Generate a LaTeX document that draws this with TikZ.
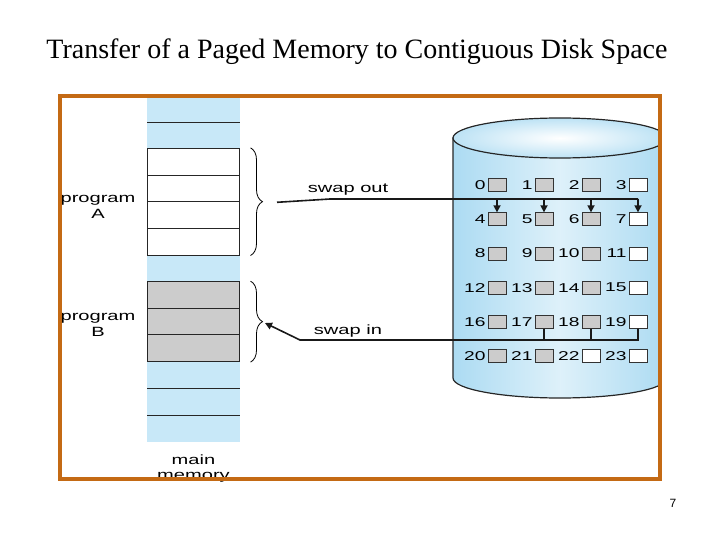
\documentclass[tikz,border=0pt]{standalone}
\usepackage{fontspec}
\setmainfont{Liberation Serif}
\newfontfamily\figfont[FakeStretch=1.5]{Liberation Sans}
\newfontfamily\pagefont{Liberation Sans}
\usetikzlibrary{decorations.pathreplacing,arrows.meta}
\definecolor{frameorange}{RGB}{196,106,20}
\definecolor{memblue}{RGB}{200,232,248}
\definecolor{diskblue}{RGB}{172,219,242}
\definecolor{blockgray}{RGB}{204,204,204}

\tikzset{page/.style = {shape=rectangle, draw=black!85, line width=1pt, minimum width=92pt, minimum height=26.67pt}}
\tikzset{blk/.style = {shape=rectangle, draw=black!80, line width=0.7pt, minimum width=18pt, minimum height=13pt}}
\tikzset{num/.style = {font=\figfont\fontsize{12.8}{12.8}\selectfont, anchor=east}}
\tikzset{lbl/.style = {font=\figfont\fontsize{13.4}{16}\selectfont, align=center}}
\tikzset{sep/.style = {line width=0.8pt, black!85}}
\tikzset{bus/.style = {line width=1.6pt, black!90}}
\tikzset{brc/.style = {decorate, decoration={brace, amplitude=12pt}, line width=0.8pt}}

\begin{document}
\begin{tikzpicture}[
      x=1pt, y=-1pt,
      every node/.style = {inner sep=0pt}
    ]
    \useasboundingbox (0,0) rectangle (720,540);
    % Title
    \node (title) at (357,52) {\fontsize{28}{32}\selectfont Transfer of a Paged Memory to Contiguous Disk Space};
    % Main memory
    \fill[memblue] (147,95) rectangle (240,441.7);
    \foreach \y in {122,388.3,415}
      \draw[sep] (147,\y) -- (240,\y);
    \foreach \k in {1,...,4}
      \node[page, fill=white] (pa\k) at (193,135+26.67*\k) {};
    \foreach \k in {1,2,3}
      \node[page, fill=blockgray] (pb\k) at (193,268.3+26.67*\k) {};
    \node[lbl] (proga) at (98,207) {program\\A};
    \node[lbl] (progb) at (98,325) {program\\B};
    \node[lbl, font=\figfont\fontsize{13.4}{15}\selectfont] (mainmem) at (193.5,469) {main\\memory};
    % Braces
    \draw[brc] ([xshift=11pt]pa1.north east) -- ([xshift=11pt]pa4.south east);
    \draw[brc] ([xshift=11pt]pb1.north east) -- ([xshift=11pt]pb3.south east);
    % Disk
    \begin{scope}
      \clip (62,98) rectangle (658,477);
      \shadedraw[left color=diskblue, right color=diskblue, middle color=diskblue!40, draw=black!85, line width=1.2pt]
        (453,138) -- (453,378) arc[start angle=180, end angle=0, x radius=107, y radius=20] -- (667,138) -- cycle;
      \shadedraw[inner color=white, outer color=diskblue!80, draw=black!85, line width=1.2pt]
        (560,138) ellipse [x radius=107, y radius=20];
    \end{scope}
    % Blocks
    \foreach \i in {0,...,23} {
      \pgfmathtruncatemacro{\c}{mod(\i,4)}
      \pgfmathtruncatemacro{\r}{int(\i/4)}
      \ifnum\c=3 \def\fc{white}\else\ifnum\i>21 \def\fc{white}\else\def\fc{blockgray}\fi\fi
      \node[blk, fill=\fc] (d\i) at (497+47*\c,185+34.2*\r) {};
      \node[num] (n\i) at ([xshift=-2pt]d\i.west) {\i};
    }
    % Swap out
    \coordinate (outend) at (277,202.3);
    \coordinate (outbend) at (330,199);
    \node[lbl, anchor=base] (swapout) at (348,193) {swap out};
    \draw[bus] (outend) -- (outbend) -- (outbend -| d7);
    \foreach \i in {4,...,7}
      \draw[bus, -{Triangle[width=7pt,length=7pt]}] (outbend -| d\i) -- (d\i.north);
    % Swap in
    \coordinate (inbend) at (300,340);
    \coordinate (inend) at (265,323);
    \node[lbl, anchor=base] (swapin) at (348,334) {swap in};
    \foreach \i in {17,18}
      \draw[bus] (d\i.south) -- (d\i.south |- inbend);
    \draw[bus, -{Triangle[width=7pt,length=7pt]}] (d19.south) |- (inbend) -- (inend);
    % Frame
    \draw[frameorange, line width=4pt] (60,96) rectangle (659.7,479);
    \node[font=\pagefont\fontsize{12}{12}\selectfont] (pagenum) at (673,503) {7};
  \end{tikzpicture}
\end{document}
